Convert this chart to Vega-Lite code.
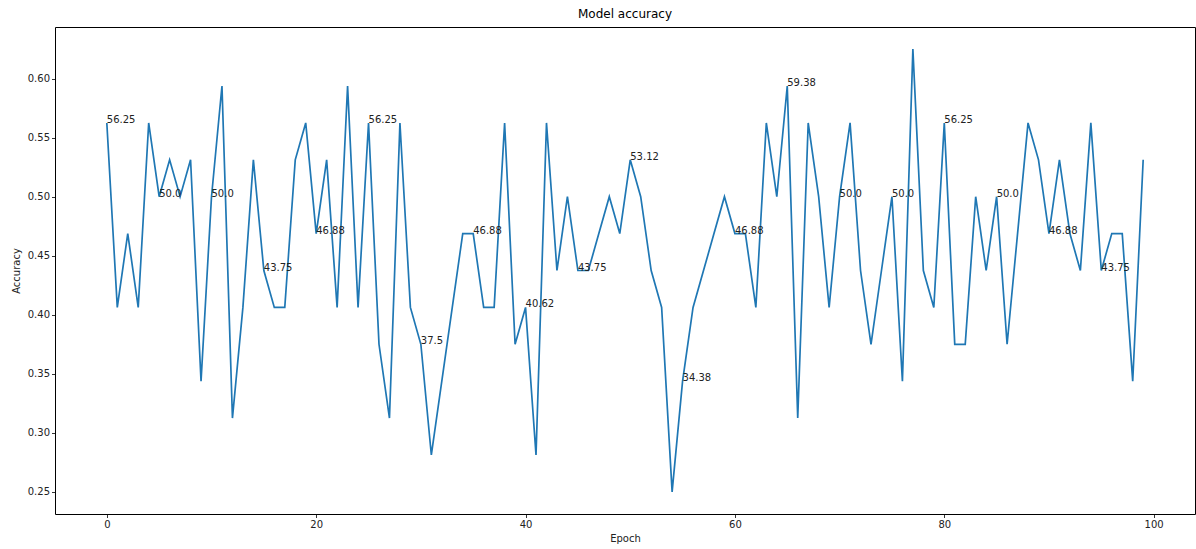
{
  "$schema": "https://vega.github.io/schema/vega-lite/v6.json",
  "width": 1140,
  "height": 487,
  "autosize": "none",
  "padding": {"left": 55, "top": 27, "right": 1, "bottom": 35},
  "background": "white",
  "title": {"text": "Model accuracy", "font": "DejaVu Sans", "fontSize": 12, "fontWeight": "normal", "color": "#000", "offset": 6},
  "config": {
    "view": {"stroke": "#000", "strokeWidth": 1},
    "axis": {
      "grid": false, "domain": false,
      "labelFont": "DejaVu Sans", "labelFontSize": 10, "labelColor": "#222",
      "titleFont": "DejaVu Sans", "titleFontSize": 10, "titleFontWeight": "normal", "titleColor": "#222",
      "tickColor": "#000", "tickSize": 3.5, "tickWidth": 0.8, "labelPadding": 2
    }
  },
  "data": {"values": [
    {"epoch":0,"accuracy":0.5625,"label":"56.25"},
    {"epoch":1,"accuracy":0.40625,"label":""},
    {"epoch":2,"accuracy":0.46875,"label":""},
    {"epoch":3,"accuracy":0.40625,"label":""},
    {"epoch":4,"accuracy":0.5625,"label":""},
    {"epoch":5,"accuracy":0.5,"label":"50.0"},
    {"epoch":6,"accuracy":0.53125,"label":""},
    {"epoch":7,"accuracy":0.5,"label":""},
    {"epoch":8,"accuracy":0.53125,"label":""},
    {"epoch":9,"accuracy":0.34375,"label":""},
    {"epoch":10,"accuracy":0.5,"label":"50.0"},
    {"epoch":11,"accuracy":0.59375,"label":""},
    {"epoch":12,"accuracy":0.3125,"label":""},
    {"epoch":13,"accuracy":0.40625,"label":""},
    {"epoch":14,"accuracy":0.53125,"label":""},
    {"epoch":15,"accuracy":0.4375,"label":"43.75"},
    {"epoch":16,"accuracy":0.40625,"label":""},
    {"epoch":17,"accuracy":0.40625,"label":""},
    {"epoch":18,"accuracy":0.53125,"label":""},
    {"epoch":19,"accuracy":0.5625,"label":""},
    {"epoch":20,"accuracy":0.46875,"label":"46.88"},
    {"epoch":21,"accuracy":0.53125,"label":""},
    {"epoch":22,"accuracy":0.40625,"label":""},
    {"epoch":23,"accuracy":0.59375,"label":""},
    {"epoch":24,"accuracy":0.40625,"label":""},
    {"epoch":25,"accuracy":0.5625,"label":"56.25"},
    {"epoch":26,"accuracy":0.375,"label":""},
    {"epoch":27,"accuracy":0.3125,"label":""},
    {"epoch":28,"accuracy":0.5625,"label":""},
    {"epoch":29,"accuracy":0.40625,"label":""},
    {"epoch":30,"accuracy":0.375,"label":"37.5"},
    {"epoch":31,"accuracy":0.28125,"label":""},
    {"epoch":32,"accuracy":0.34375,"label":""},
    {"epoch":33,"accuracy":0.40625,"label":""},
    {"epoch":34,"accuracy":0.46875,"label":""},
    {"epoch":35,"accuracy":0.46875,"label":"46.88"},
    {"epoch":36,"accuracy":0.40625,"label":""},
    {"epoch":37,"accuracy":0.40625,"label":""},
    {"epoch":38,"accuracy":0.5625,"label":""},
    {"epoch":39,"accuracy":0.375,"label":""},
    {"epoch":40,"accuracy":0.40625,"label":"40.62"},
    {"epoch":41,"accuracy":0.28125,"label":""},
    {"epoch":42,"accuracy":0.5625,"label":""},
    {"epoch":43,"accuracy":0.4375,"label":""},
    {"epoch":44,"accuracy":0.5,"label":""},
    {"epoch":45,"accuracy":0.4375,"label":"43.75"},
    {"epoch":46,"accuracy":0.4375,"label":""},
    {"epoch":47,"accuracy":0.46875,"label":""},
    {"epoch":48,"accuracy":0.5,"label":""},
    {"epoch":49,"accuracy":0.46875,"label":""},
    {"epoch":50,"accuracy":0.53125,"label":"53.12"},
    {"epoch":51,"accuracy":0.5,"label":""},
    {"epoch":52,"accuracy":0.4375,"label":""},
    {"epoch":53,"accuracy":0.40625,"label":""},
    {"epoch":54,"accuracy":0.25,"label":""},
    {"epoch":55,"accuracy":0.34375,"label":"34.38"},
    {"epoch":56,"accuracy":0.40625,"label":""},
    {"epoch":57,"accuracy":0.4375,"label":""},
    {"epoch":58,"accuracy":0.46875,"label":""},
    {"epoch":59,"accuracy":0.5,"label":""},
    {"epoch":60,"accuracy":0.46875,"label":"46.88"},
    {"epoch":61,"accuracy":0.46875,"label":""},
    {"epoch":62,"accuracy":0.40625,"label":""},
    {"epoch":63,"accuracy":0.5625,"label":""},
    {"epoch":64,"accuracy":0.5,"label":""},
    {"epoch":65,"accuracy":0.59375,"label":"59.38"},
    {"epoch":66,"accuracy":0.3125,"label":""},
    {"epoch":67,"accuracy":0.5625,"label":""},
    {"epoch":68,"accuracy":0.5,"label":""},
    {"epoch":69,"accuracy":0.40625,"label":""},
    {"epoch":70,"accuracy":0.5,"label":"50.0"},
    {"epoch":71,"accuracy":0.5625,"label":""},
    {"epoch":72,"accuracy":0.4375,"label":""},
    {"epoch":73,"accuracy":0.375,"label":""},
    {"epoch":74,"accuracy":0.4375,"label":""},
    {"epoch":75,"accuracy":0.5,"label":"50.0"},
    {"epoch":76,"accuracy":0.34375,"label":""},
    {"epoch":77,"accuracy":0.625,"label":""},
    {"epoch":78,"accuracy":0.4375,"label":""},
    {"epoch":79,"accuracy":0.40625,"label":""},
    {"epoch":80,"accuracy":0.5625,"label":"56.25"},
    {"epoch":81,"accuracy":0.375,"label":""},
    {"epoch":82,"accuracy":0.375,"label":""},
    {"epoch":83,"accuracy":0.5,"label":""},
    {"epoch":84,"accuracy":0.4375,"label":""},
    {"epoch":85,"accuracy":0.5,"label":"50.0"},
    {"epoch":86,"accuracy":0.375,"label":""},
    {"epoch":87,"accuracy":0.46875,"label":""},
    {"epoch":88,"accuracy":0.5625,"label":""},
    {"epoch":89,"accuracy":0.53125,"label":""},
    {"epoch":90,"accuracy":0.46875,"label":"46.88"},
    {"epoch":91,"accuracy":0.53125,"label":""},
    {"epoch":92,"accuracy":0.46875,"label":""},
    {"epoch":93,"accuracy":0.4375,"label":""},
    {"epoch":94,"accuracy":0.5625,"label":""},
    {"epoch":95,"accuracy":0.4375,"label":"43.75"},
    {"epoch":96,"accuracy":0.46875,"label":""},
    {"epoch":97,"accuracy":0.46875,"label":""},
    {"epoch":98,"accuracy":0.34375,"label":""},
    {"epoch":99,"accuracy":0.53125,"label":""}
  ]},
  "encoding": {
    "x": {"field": "epoch", "type": "quantitative", "title": "Epoch",
          "scale": {"domain": [-4.95, 103.95], "nice": false, "zero": false},
          "axis": {"values": [0, 20, 40, 60, 80, 100], "titlePadding": 4}},
    "y": {"field": "accuracy", "type": "quantitative", "title": "Accuracy",
          "scale": {"domain": [0.23125, 0.64375], "nice": false, "zero": false},
          "axis": {"values": [0.25, 0.3, 0.35, 0.4, 0.45, 0.5, 0.55, 0.6], "format": ".2f", "titlePadding": 6}}
  },
  "layer": [
    {"mark": {"type": "line", "color": "#1f77b4", "strokeWidth": 1.7, "clip": true}},
    {"transform": [{"filter": "datum.label != ''"}],
     "mark": {"type": "text", "align": "left", "baseline": "alphabetic", "font": "DejaVu Sans", "fontSize": 10, "color": "#222"},
     "encoding": {"text": {"field": "label"}}}
  ]
}
